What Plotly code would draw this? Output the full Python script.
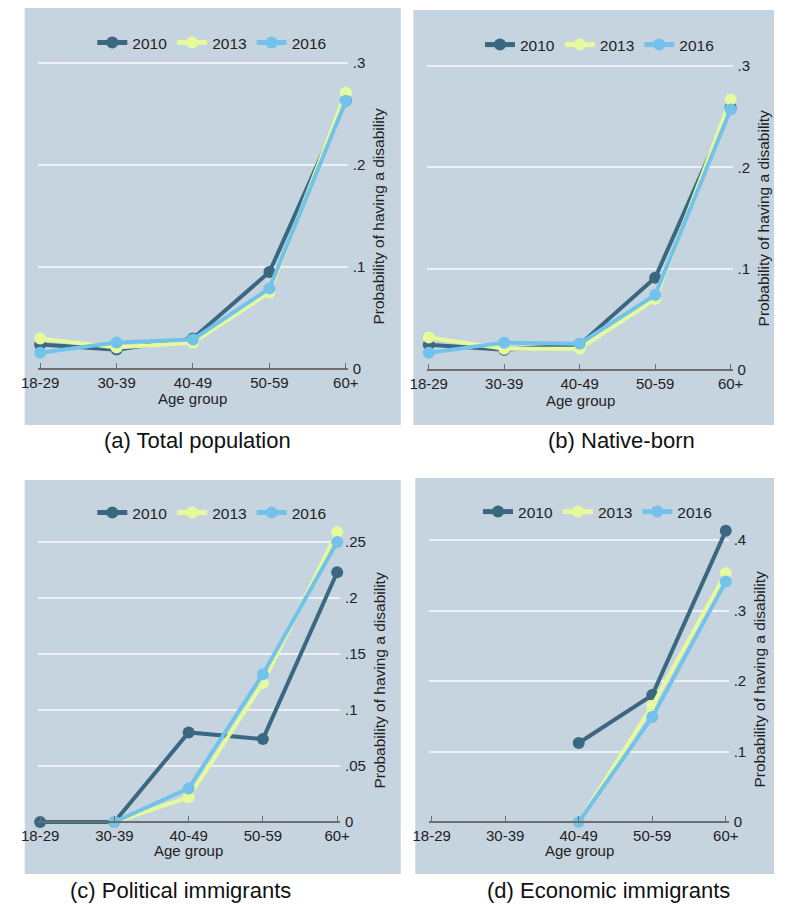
import plotly.graph_objects as go

W, H = 785, 905

ages = ["18-29", "30-39", "40-49", "50-59", "60+"]
years = ["2010", "2013", "2016"]
colors = {"2010": "#3a6880", "2013": "#e6f99d", "2016": "#73c2ea"}

# (a) Total population
total_2010 = [0.024, 0.019, 0.030, 0.095, 0.263]
total_2013 = [0.030, 0.021, 0.026, 0.075, 0.271]
total_2016 = [0.016, 0.026, 0.029, 0.079, 0.263]
# (b) Native-born
native_2010 = [0.025, 0.020, 0.025, 0.091, 0.259]
native_2013 = [0.032, 0.021, 0.021, 0.070, 0.267]
native_2016 = [0.017, 0.027, 0.026, 0.074, 0.257]
# (c) Political immigrants
political_2010 = [0.0, 0.0, 0.080, 0.074, 0.223]
political_2013 = [None, 0.0, 0.022, 0.124, 0.259]
political_2016 = [None, 0.0, 0.030, 0.132, 0.250]
# (d) Economic immigrants
economic_2010 = [None, None, 0.112, 0.180, 0.413]
economic_2013 = [None, None, 0.0, 0.165, 0.353]
economic_2016 = [None, None, 0.0, 0.149, 0.341]

captions = ["(a) Total population", "(b) Native-born",
            "(c) Political immigrants", "(d) Economic immigrants"]
y_ticks = [
    ([0, 0.1, 0.2, 0.3], ["0", ".1", ".2", ".3"]),
    ([0, 0.1, 0.2, 0.3], ["0", ".1", ".2", ".3"]),
    ([0, 0.05, 0.1, 0.15, 0.2, 0.25], ["0", ".05", ".1", ".15", ".2", ".25"]),
    ([0, 0.1, 0.2, 0.3, 0.4], ["0", ".1", ".2", ".3", ".4"]),
]
panel_data = [
    [total_2010, total_2013, total_2016],
    [native_2010, native_2013, native_2016],
    [political_2010, political_2013, political_2016],
    [economic_2010, economic_2013, economic_2016],
]

# layout geometry in pixels
panels = [
    dict(bg=(8, 8, 398, 425), xt=(24, 341), gx=(22, 343), y0=369, ytop=63, vtop=0.3,
         legend=(202, 43), ytitle=(375, 216), xtitle=(182, 399), cap=(187, 440)),
    dict(bg=(411, 10, 785, 425), xt=(427, 740), gx=(425, 742), y0=370, ytop=66, vtop=0.3,
         legend=(604, 45), ytitle=(774, 218), xtitle=(584, 400), cap=(627, 440)),
    dict(bg=(8, 480, 398, 874), xt=(24, 332), gx=(22, 335), y0=822, ytop=542, vtop=0.25,
         legend=(202, 513), ytitle=(375, 680), xtitle=(178, 850), cap=(170, 890)),
    dict(bg=(413, 478, 785, 874), xt=(430, 735), gx=(427, 738), y0=822, ytop=540, vtop=0.4,
         legend=(602, 512), ytitle=(769, 679), xtitle=(583, 850), cap=(613, 890)),
]

BG = "#c6d4e0"
FONT = "Liberation Sans, Arial, Helvetica, sans-serif"
PAD_BOTTOM = 8
PAD_TOP = 22


def px(x):
    return x / W


def py(y):
    return 1 - y / H


fig = go.Figure()
shapes = []
annotations = []
layout = {}

for i, (p, series) in enumerate(zip(panels, panel_data)):
    n = i + 1
    xs = "" if n == 1 else str(n)
    leg = "legend" if n == 1 else f"legend{n}"
    for yr, vals in zip(years, series):
        fig.add_trace(go.Scatter(
            x=list(range(len(ages))), y=vals, mode="lines+markers",
            name=yr, legend=leg,
            line=dict(color=colors[yr], width=4),
            marker=dict(color=colors[yr], size=12),
            cliponaxis=False, connectgaps=False,
            xaxis=f"x{xs}", yaxis=f"y{xs}",
        ))
    # x axis mapping
    unit = (p["xt"][1] - p["xt"][0]) / 4.0
    r0 = (p["gx"][0] - p["xt"][0]) / unit
    r1 = 4 + (p["gx"][1] - p["xt"][1]) / unit
    layout[f"xaxis{xs}"] = dict(
        domain=[px(p["gx"][0]), px(p["gx"][1])], range=[r0, r1],
        anchor="free", position=py(p["y0"]), tickvals=list(range(5)), ticktext=ages,
        showgrid=False, zeroline=False, showline=True, linecolor="#6e6e6e",
        linewidth=1.5, ticks="inside", ticklen=5, tickcolor="#6e6e6e", tickwidth=1,
        tickfont=dict(size=15, color="#222"), fixedrange=True,
    )
    # y axis mapping (extended a bit beyond 0 and top tick)
    vpp = p["vtop"] / (p["y0"] - p["ytop"])
    tv, tt = y_ticks[i]
    layout[f"yaxis{xs}"] = dict(
        domain=[py(p["y0"] + PAD_BOTTOM), py(p["ytop"] - PAD_TOP)],
        range=[-PAD_BOTTOM * vpp, p["vtop"] + PAD_TOP * vpp],
        anchor=f"x{xs}", side="right", tickvals=tv, ticktext=tt,
        showgrid=True, gridcolor="#edf1f5", gridwidth=1.5, zeroline=False,
        showline=False, ticks="", ticklabelstandoff=4,
        tickfont=dict(size=15, color="#222"), fixedrange=True,
    )
    layout[leg] = dict(
        orientation="h", x=px(p["legend"][0]), y=py(p["legend"][1]),
        xanchor="center", yanchor="middle", bgcolor="rgba(0,0,0,0)",
        font=dict(size=15.5, color="#222", family=FONT), itemsizing="constant",
    )
    b = p["bg"]
    shapes.append(dict(type="rect", xref="paper", yref="paper", layer="below",
                       x0=px(b[0]), x1=px(b[2]), y0=py(b[3]), y1=py(b[1]),
                       fillcolor=BG, line=dict(width=0)))
    annotations.append(dict(text="Probability of having a disability", xref="paper", yref="paper",
                            x=px(p["ytitle"][0]), y=py(p["ytitle"][1]), textangle=-90,
                            showarrow=False, xanchor="center", yanchor="middle",
                            font=dict(size=15.5, color="#222")))
    annotations.append(dict(text="Age group", xref="paper", yref="paper",
                            x=px(p["xtitle"][0]), y=py(p["xtitle"][1]),
                            showarrow=False, xanchor="center", yanchor="middle",
                            font=dict(size=15, color="#222")))
    annotations.append(dict(text=captions[i], xref="paper", yref="paper",
                            x=px(p["cap"][0]), y=py(p["cap"][1]),
                            showarrow=False, xanchor="center", yanchor="middle",
                            font=dict(size=22, color="#111")))

fig.update_layout(
    width=W, height=H, margin=dict(l=0, r=0, t=0, b=0),
    paper_bgcolor="white", plot_bgcolor=BG,
    font=dict(family=FONT, color="#222"),
    shapes=shapes, annotations=annotations, **layout,
)

fig.write_html("out.html")
